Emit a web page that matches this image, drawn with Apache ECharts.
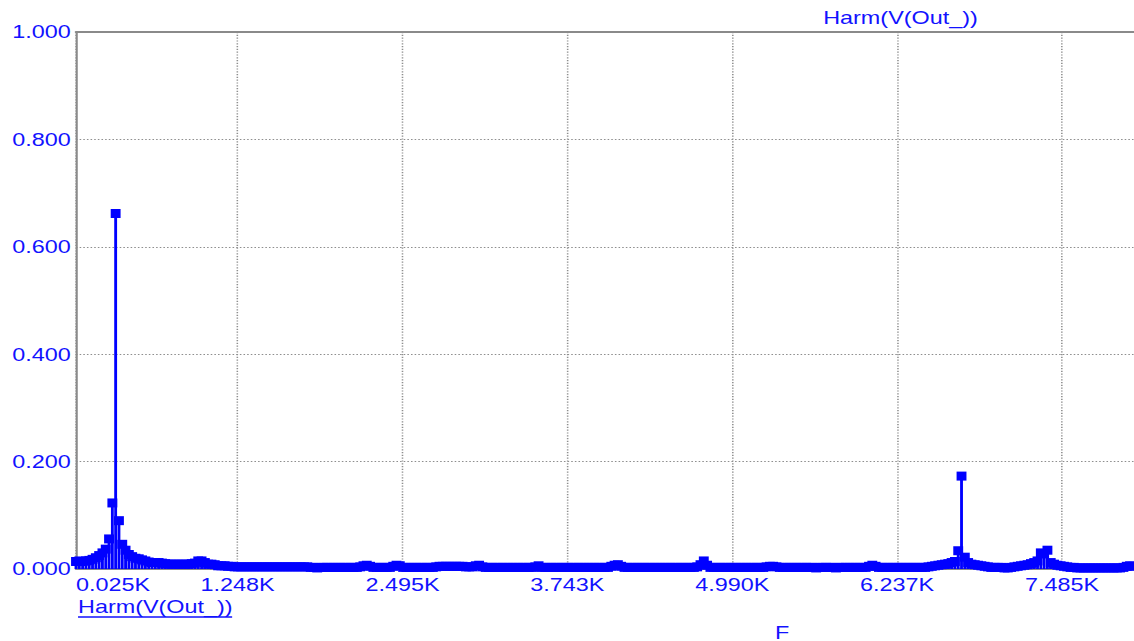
<!DOCTYPE html>
<html>
<head>
<meta charset="utf-8">
<title>Harm(V(Out_))</title>
<script src="https://cdn.jsdelivr.net/npm/echarts@6/dist/echarts.min.js"></script>
<style>
  html, body { margin: 0; padding: 0; background: #ffffff; overflow: hidden; }
  #wrap { width: 1134px; height: 641px; overflow: hidden; }
  /* probe-style wide glyphs: the plot is laid out narrow and stretched horizontally */
  #chart { width: 872px; height: 641px; transform: scaleX(1.30046); transform-origin: 0 0; }
</style>
</head>
<body>
<div id="wrap"><div id="chart"></div></div>
<script>
// ---- trace data: harmonic magnitude of V(Out_) ----
const traceName = 'Harm(V(Out_))';
const xAxisTitle = 'F';
const freqStartHz = 25;     // first FFT bin
const freqStepHz = 25;      // bin spacing
// magnitude per bin, 25 Hz .. 8025 Hz
const harmMag = [
  0.014, 0.015, 0.014, 0.015, 0.016, 0.018, 0.021, 0.025, 0.030, 0.037, 0.056, 0.123, 0.662, 0.090, 0.046, 0.035, 0.027, 0.023, 0.020, 0.019,
  0.017, 0.015, 0.013, 0.012, 0.012, 0.012, 0.011, 0.010, 0.009, 0.009, 0.009, 0.009, 0.009, 0.009, 0.009, 0.010, 0.011, 0.015, 0.015, 0.012,
  0.009, 0.009, 0.008, 0.006, 0.006, 0.006, 0.005, 0.005, 0.004, 0.004, 0.004, 0.004, 0.004, 0.004, 0.004, 0.004, 0.004, 0.004, 0.004, 0.004,
  0.004, 0.004, 0.004, 0.004, 0.004, 0.004, 0.004, 0.004, 0.004, 0.004, 0.004, 0.003, 0.003, 0.002, 0.003, 0.003, 0.003, 0.003, 0.003, 0.003,
  0.003, 0.003, 0.003, 0.003, 0.003, 0.003, 0.004, 0.006, 0.007, 0.005, 0.003, 0.003, 0.003, 0.003, 0.003, 0.003, 0.005, 0.007, 0.006, 0.003,
  0.003, 0.003, 0.003, 0.003, 0.003, 0.003, 0.003, 0.003, 0.003, 0.004, 0.005, 0.005, 0.005, 0.005, 0.005, 0.005, 0.005, 0.005, 0.004, 0.004,
  0.004, 0.006, 0.007, 0.004, 0.003, 0.003, 0.003, 0.003, 0.003, 0.003, 0.003, 0.003, 0.003, 0.003, 0.003, 0.003, 0.003, 0.003, 0.003, 0.004,
  0.006, 0.003, 0.003, 0.003, 0.003, 0.003, 0.003, 0.003, 0.003, 0.003, 0.003, 0.003, 0.003, 0.003, 0.003, 0.003, 0.003, 0.003, 0.003, 0.003,
  0.003, 0.003, 0.005, 0.007, 0.008, 0.005, 0.003, 0.003, 0.003, 0.003, 0.003, 0.003, 0.003, 0.003, 0.003, 0.003, 0.003, 0.003, 0.003, 0.003,
  0.003, 0.003, 0.003, 0.003, 0.003, 0.003, 0.003, 0.003, 0.004, 0.008, 0.015, 0.007, 0.003, 0.003, 0.003, 0.003, 0.003, 0.003, 0.003, 0.003,
  0.003, 0.003, 0.003, 0.003, 0.003, 0.003, 0.003, 0.003, 0.003, 0.004, 0.005, 0.005, 0.004, 0.003, 0.003, 0.003, 0.003, 0.003, 0.003, 0.003,
  0.003, 0.003, 0.003, 0.003, 0.002, 0.003, 0.003, 0.003, 0.003, 0.003, 0.002, 0.003, 0.003, 0.003, 0.003, 0.003, 0.003, 0.003, 0.003, 0.003,
  0.005, 0.007, 0.005, 0.003, 0.003, 0.003, 0.003, 0.003, 0.003, 0.003, 0.003, 0.003, 0.003, 0.003, 0.003, 0.003, 0.003, 0.003, 0.004, 0.005,
  0.006, 0.007, 0.008, 0.009, 0.010, 0.012, 0.014, 0.034, 0.173, 0.022, 0.012, 0.009, 0.008, 0.007, 0.006, 0.005, 0.004, 0.003, 0.003, 0.003,
  0.003, 0.002, 0.002, 0.003, 0.004, 0.005, 0.006, 0.007, 0.008, 0.010, 0.012, 0.015, 0.030, 0.028, 0.035, 0.012, 0.009, 0.007, 0.006, 0.005,
  0.004, 0.003, 0.003, 0.002, 0.002, 0.002, 0.002, 0.002, 0.002, 0.002, 0.002, 0.002, 0.002, 0.002, 0.002, 0.002, 0.002, 0.003, 0.005, 0.006,
  0.005
];

// ---- axis ticks ----
const xTickValues = [25, 1247.5, 2495, 3742.5, 4990, 6237.5, 7485];
const xTickLabels = ['0.025K', '1.248K', '2.495K', '3.743K', '4.990K', '6.237K', '7.485K'];
const yTickValues = [0, 0.2, 0.4, 0.6, 0.8, 1.0];
const yTickLabels = ['0.000', '0.200', '0.400', '0.600', '0.800', '1.000'];

const points = harmMag.map((v, i) => [freqStartHz + i * freqStepHz, v]);

const BLUE = '#0000ff';
const TEXT_BLUE = '#1212ff';
const FRAME = '#8a8a8a';
const GRID = '#8e8e8e';
const FONT = '"Liberation Sans", Arial, sans-serif';

const chart = echarts.init(document.getElementById('chart'), null, { renderer: 'svg' });

chart.setOption({
  animation: false,
  backgroundColor: '#ffffff',
  grid: { left: 58.44, right: 0, top: 32, bottom: 72, containLabel: false },
  xAxis: [
    {
      type: 'value',
      min: 25,
      max: 8030,
      axisLine: { show: true, onZero: false, lineStyle: { color: FRAME, width: 2 } },
      axisTick: { show: false, customValues: xTickValues },
      splitLine: { show: true, lineStyle: { color: GRID, width: 1.2, type: [1.2, 1.6] } },
      axisLabel: {
        customValues: xTickValues,
        margin: 7,
        color: TEXT_BLUE,
        fontFamily: FONT,
        fontSize: 18,
        formatter: function (v) {
          const k = xTickValues.indexOf(v);
          if (k === 0) return '{first|' + xTickLabels[0] + '}';
          return k >= 0 ? xTickLabels[k] : '';
        },
        rich: {
          first: { color: TEXT_BLUE, fontFamily: FONT, fontSize: 18, padding: [0, 0, 0, 57] }
        }
      }
    },
    {
      // top frame line
      type: 'value',
      position: 'top',
      min: 25,
      max: 8030,
      axisLine: { show: true, onZero: false, lineStyle: { color: FRAME, width: 2 } },
      axisTick: { show: false },
      axisLabel: { show: false },
      splitLine: { show: false }
    }
  ],
  yAxis: {
    type: 'value',
    min: 0,
    max: 1,
    interval: 0.2,
    axisLine: { show: true, lineStyle: { color: FRAME, width: 1.6 } },
    axisTick: { show: false },
    splitLine: { show: true, lineStyle: { color: GRID, width: 1.2, type: [1.2, 1.6] } },
    axisLabel: {
      margin: 4,
      color: TEXT_BLUE,
      fontFamily: FONT,
      fontSize: 18,
      formatter: function (v) {
        const k = yTickValues.findIndex(t => Math.abs(t - v) < 1e-9);
        return k >= 0 ? yTickLabels[k] : '';
      }
    }
  },
  graphic: [
    { type: 'text', left: 633, top: 9, style: { text: traceName, fill: TEXT_BLUE, font: '18px ' + FONT } },
    { type: 'text', left: 60, top: 597.5, style: { text: traceName, fill: TEXT_BLUE, font: '18px ' + FONT } },
    { type: 'line', shape: { x1: 60, y1: 617, x2: 178.5, y2: 617 }, style: { stroke: TEXT_BLUE, lineWidth: 1.5 } },
    { type: 'text', left: 596, top: 623.5, style: { text: xAxisTitle, fill: TEXT_BLUE, font: '18px ' + FONT } }
  ],
  series: [
    {
      // stems from zero to each bin
      name: traceName + ' stems',
      type: 'bar',
      data: points,
      barWidth: 2.2,
      silent: true,
      itemStyle: { color: BLUE },
      z: 2
    },
    {
      // square marker on every bin
      name: traceName,
      type: 'scatter',
      data: points,
      symbol: 'rect',
      symbolSize: [7.6, 9],
      itemStyle: { color: BLUE, opacity: 1 },
      silent: true,
      z: 3
    }
  ]
});
</script>
</body>
</html>
